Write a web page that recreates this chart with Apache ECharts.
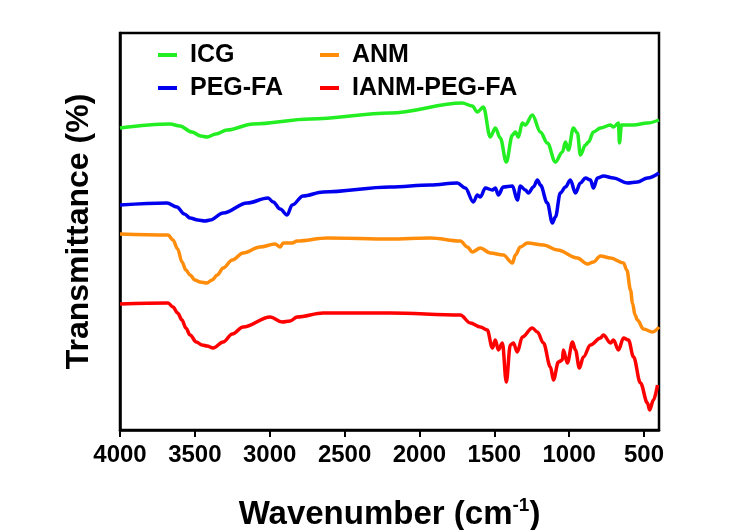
<!DOCTYPE html>
<html>
<head>
<meta charset="utf-8">
<script src="https://cdn.jsdelivr.net/npm/echarts@6/dist/echarts.min.js"></script>
<style>
  html, body { margin: 0; padding: 0; background: #fff; }
  #myChart { width: 750px; height: 530px; }
</style>
</head>
<body>
<div id="myChart"></div>
<script>
// 横轴刻度
const xTicks = [500, 1000, 1500, 2000, 2500, 3000, 3500, 4000]

// ICG
const icgWn = [4000, 3666, 3600, 3520, 3460, 3418, 3360, 3285, 3111, 2730, 2195, 1714, 1647, 1613, 1573, 1527, 1493, 1460, 1420, 1379, 1359, 1339, 1313, 1293, 1246, 1192, 1146, 1092, 1045, 1025, 1005, 972, 945, 925, 891, 871, 838, 791, 724, 704, 671, 664, 651, 570, 477, 400]
const icgT = [302, 306, 304, 298, 294, 293, 296, 300, 306, 311, 317, 327, 324, 318, 323, 293, 302, 292, 268, 295, 298, 293, 307, 305, 315, 298, 287, 268, 278, 288, 280, 302, 297, 275, 285, 288, 298, 302, 305, 303, 307, 287, 305, 305, 307, 310]

// PEG-FA
const pegWn = [4000, 3686, 3620, 3570, 3532, 3480, 3432, 3398, 3311, 3151, 3011, 2977, 2930, 2884, 2850, 2777, 2643, 2195, 1928, 1747, 1694, 1640, 1613, 1593, 1560, 1513, 1493, 1473, 1440, 1379, 1346, 1326, 1293, 1272, 1239, 1212, 1192, 1146, 1112, 1092, 1059, 1025, 992, 958, 925, 891, 858, 838, 811, 771, 704, 611, 544, 477, 400]
const pegT = [225, 227, 223, 216, 212, 210, 209, 210, 217, 227, 232, 228, 221, 215, 225, 234, 238, 243, 245, 247, 242, 228, 235, 233, 242, 240, 242, 235, 243, 244, 230, 244, 240, 237, 243, 250, 245, 227, 207, 213, 237, 243, 250, 237, 247, 252, 250, 242, 252, 254, 252, 247, 248, 252, 257]

// ANM
const anmWn = [4000, 3679, 3646, 3615, 3586, 3560, 3532, 3500, 3465, 3420, 3385, 3350, 3311, 3250, 3178, 3064, 2964, 2930, 2910, 2850, 2817, 2616, 2195, 1928, 1727, 1680, 1647, 1593, 1527, 1440, 1379, 1359, 1326, 1279, 1172, 1078, 945, 878, 838, 791, 724, 637, 615, 590, 577, 560, 544, 504, 443, 400]
const anmT = [196, 195, 190, 181, 168, 160, 155, 150, 148, 147, 150, 155, 162, 170, 177, 183, 186, 183, 187, 187, 189, 192, 191, 192, 189, 183, 178, 182, 177, 175, 167, 175, 183, 187, 185, 180, 172, 166, 168, 174, 172, 167, 160, 140, 127, 115, 110, 101, 98, 103]

// IANM-PEG-FA
const ianmWn = [4000, 3679, 3646, 3615, 3586, 3560, 3532, 3490, 3452, 3418, 3378, 3311, 3250, 3178, 2997, 2917, 2864, 2817, 2643, 2195, 1727, 1660, 1593, 1547, 1513, 1493, 1473, 1446, 1420, 1393, 1373, 1346, 1313, 1246, 1212, 1172, 1125, 1105, 1072, 1045, 1039, 1012, 978, 958, 932, 905, 858, 791, 771, 724, 704, 671, 637, 604, 570, 524, 477, 463, 437, 410]
const ianmT = [126, 127, 123, 117, 110, 102, 95, 88, 85, 84, 82, 88, 96, 103, 113, 108, 109, 113, 117, 117, 115, 107, 103, 100, 82, 90, 80, 87, 48, 85, 87, 78, 93, 102, 98, 87, 63, 50, 68, 70, 80, 67, 88, 80, 62, 73, 85, 92, 95, 87, 90, 80, 92, 90, 73, 47, 27, 20, 30, 45]

const seriesColors = ['#22ee22', '#0000ee', '#ff8c0a', '#ff0000']

function pairs(wn, t) {
  return wn.map((w, i) => [w, t[i]])
}

const myChart = echarts.init(document.getElementById('myChart'))

const legendText = {
  fontFamily: 'Liberation Sans',
  fontWeight: 'bold',
  fontSize: 25,
  color: '#000',
  lineHeight: 28,
  padding: [0, 0, 0, 8]
}

const option = {
  animation: false,
  backgroundColor: '#fff',
  grid: {
    left: 120,
    right: 91,
    top: 33,
    bottom: 100,
    outerBoundsMode: 'none',
    show: true,
    borderColor: '#000',
    borderWidth: 2.5
  },
  legend: [
    {
      data: ['ICG', 'PEG-FA'],
      orient: 'vertical',
      left: 158,
      top: 41,
      padding: 0,
      itemGap: 5,
      itemWidth: 19,
      itemHeight: 4,
      icon: 'rect',
      textStyle: legendText
    },
    {
      data: ['ANM', 'IANM-PEG-FA'],
      orient: 'vertical',
      left: 320,
      top: 41,
      padding: 0,
      itemGap: 5,
      itemWidth: 19,
      itemHeight: 4,
      icon: 'rect',
      textStyle: legendText
    }
  ],
  xAxis: {
    type: 'value',
    min: 400,
    max: 4000,
    inverse: true,
    name: 'Wavenumber (cm{sup|-1})',
    nameLocation: 'middle',
    nameGap: 66,
    nameTextStyle: {
      fontFamily: 'Liberation Sans',
      fontWeight: 'bold',
      fontSize: 33,
      lineHeight: 38,
      color: '#000',
      rich: {
        sup: {
          fontFamily: 'Liberation Sans',
          fontWeight: 'bold',
          fontSize: 19,
          lineHeight: 18,
          verticalAlign: 'top',
          color: '#000'
        }
      }
    },
    axisLine: { lineStyle: { color: '#000', width: 2.5 } },
    axisTick: {
      show: true,
      length: 7,
      customValues: xTicks,
      lineStyle: { color: '#000', width: 2 }
    },
    axisLabel: {
      customValues: xTicks,
      formatter: v => String(v),
      margin: 13,
      fontFamily: 'Liberation Sans',
      fontWeight: 'bold',
      fontSize: 24,
      color: '#000'
    },
    splitLine: { show: false }
  },
  yAxis: {
    type: 'value',
    min: 0,
    max: 397,
    name: 'Transmittance (%)',
    nameLocation: 'middle',
    nameGap: 25,
    nameTextStyle: {
      fontFamily: 'Liberation Sans',
      fontWeight: 'bold',
      fontSize: 32,
      color: '#000'
    },
    axisLine: { show: true, lineStyle: { color: '#000', width: 2.5 } },
    axisTick: { show: false },
    axisLabel: { show: false },
    splitLine: { show: false }
  },
  series: [
    { name: 'ICG', data: pairs(icgWn, icgT) },
    { name: 'PEG-FA', data: pairs(pegWn, pegT) },
    { name: 'ANM', data: pairs(anmWn, anmT) },
    { name: 'IANM-PEG-FA', data: pairs(ianmWn, ianmT) }
  ].map((s, i) => ({
    name: s.name,
    type: 'line',
    data: s.data,
    showSymbol: false,
    smooth: 0.35,
    smoothMonotone: 'x',
    color: seriesColors[i],
    lineStyle: { color: seriesColors[i], width: 3.5 }
  }))
}

myChart.setOption(option)
</script>
</body>
</html>
